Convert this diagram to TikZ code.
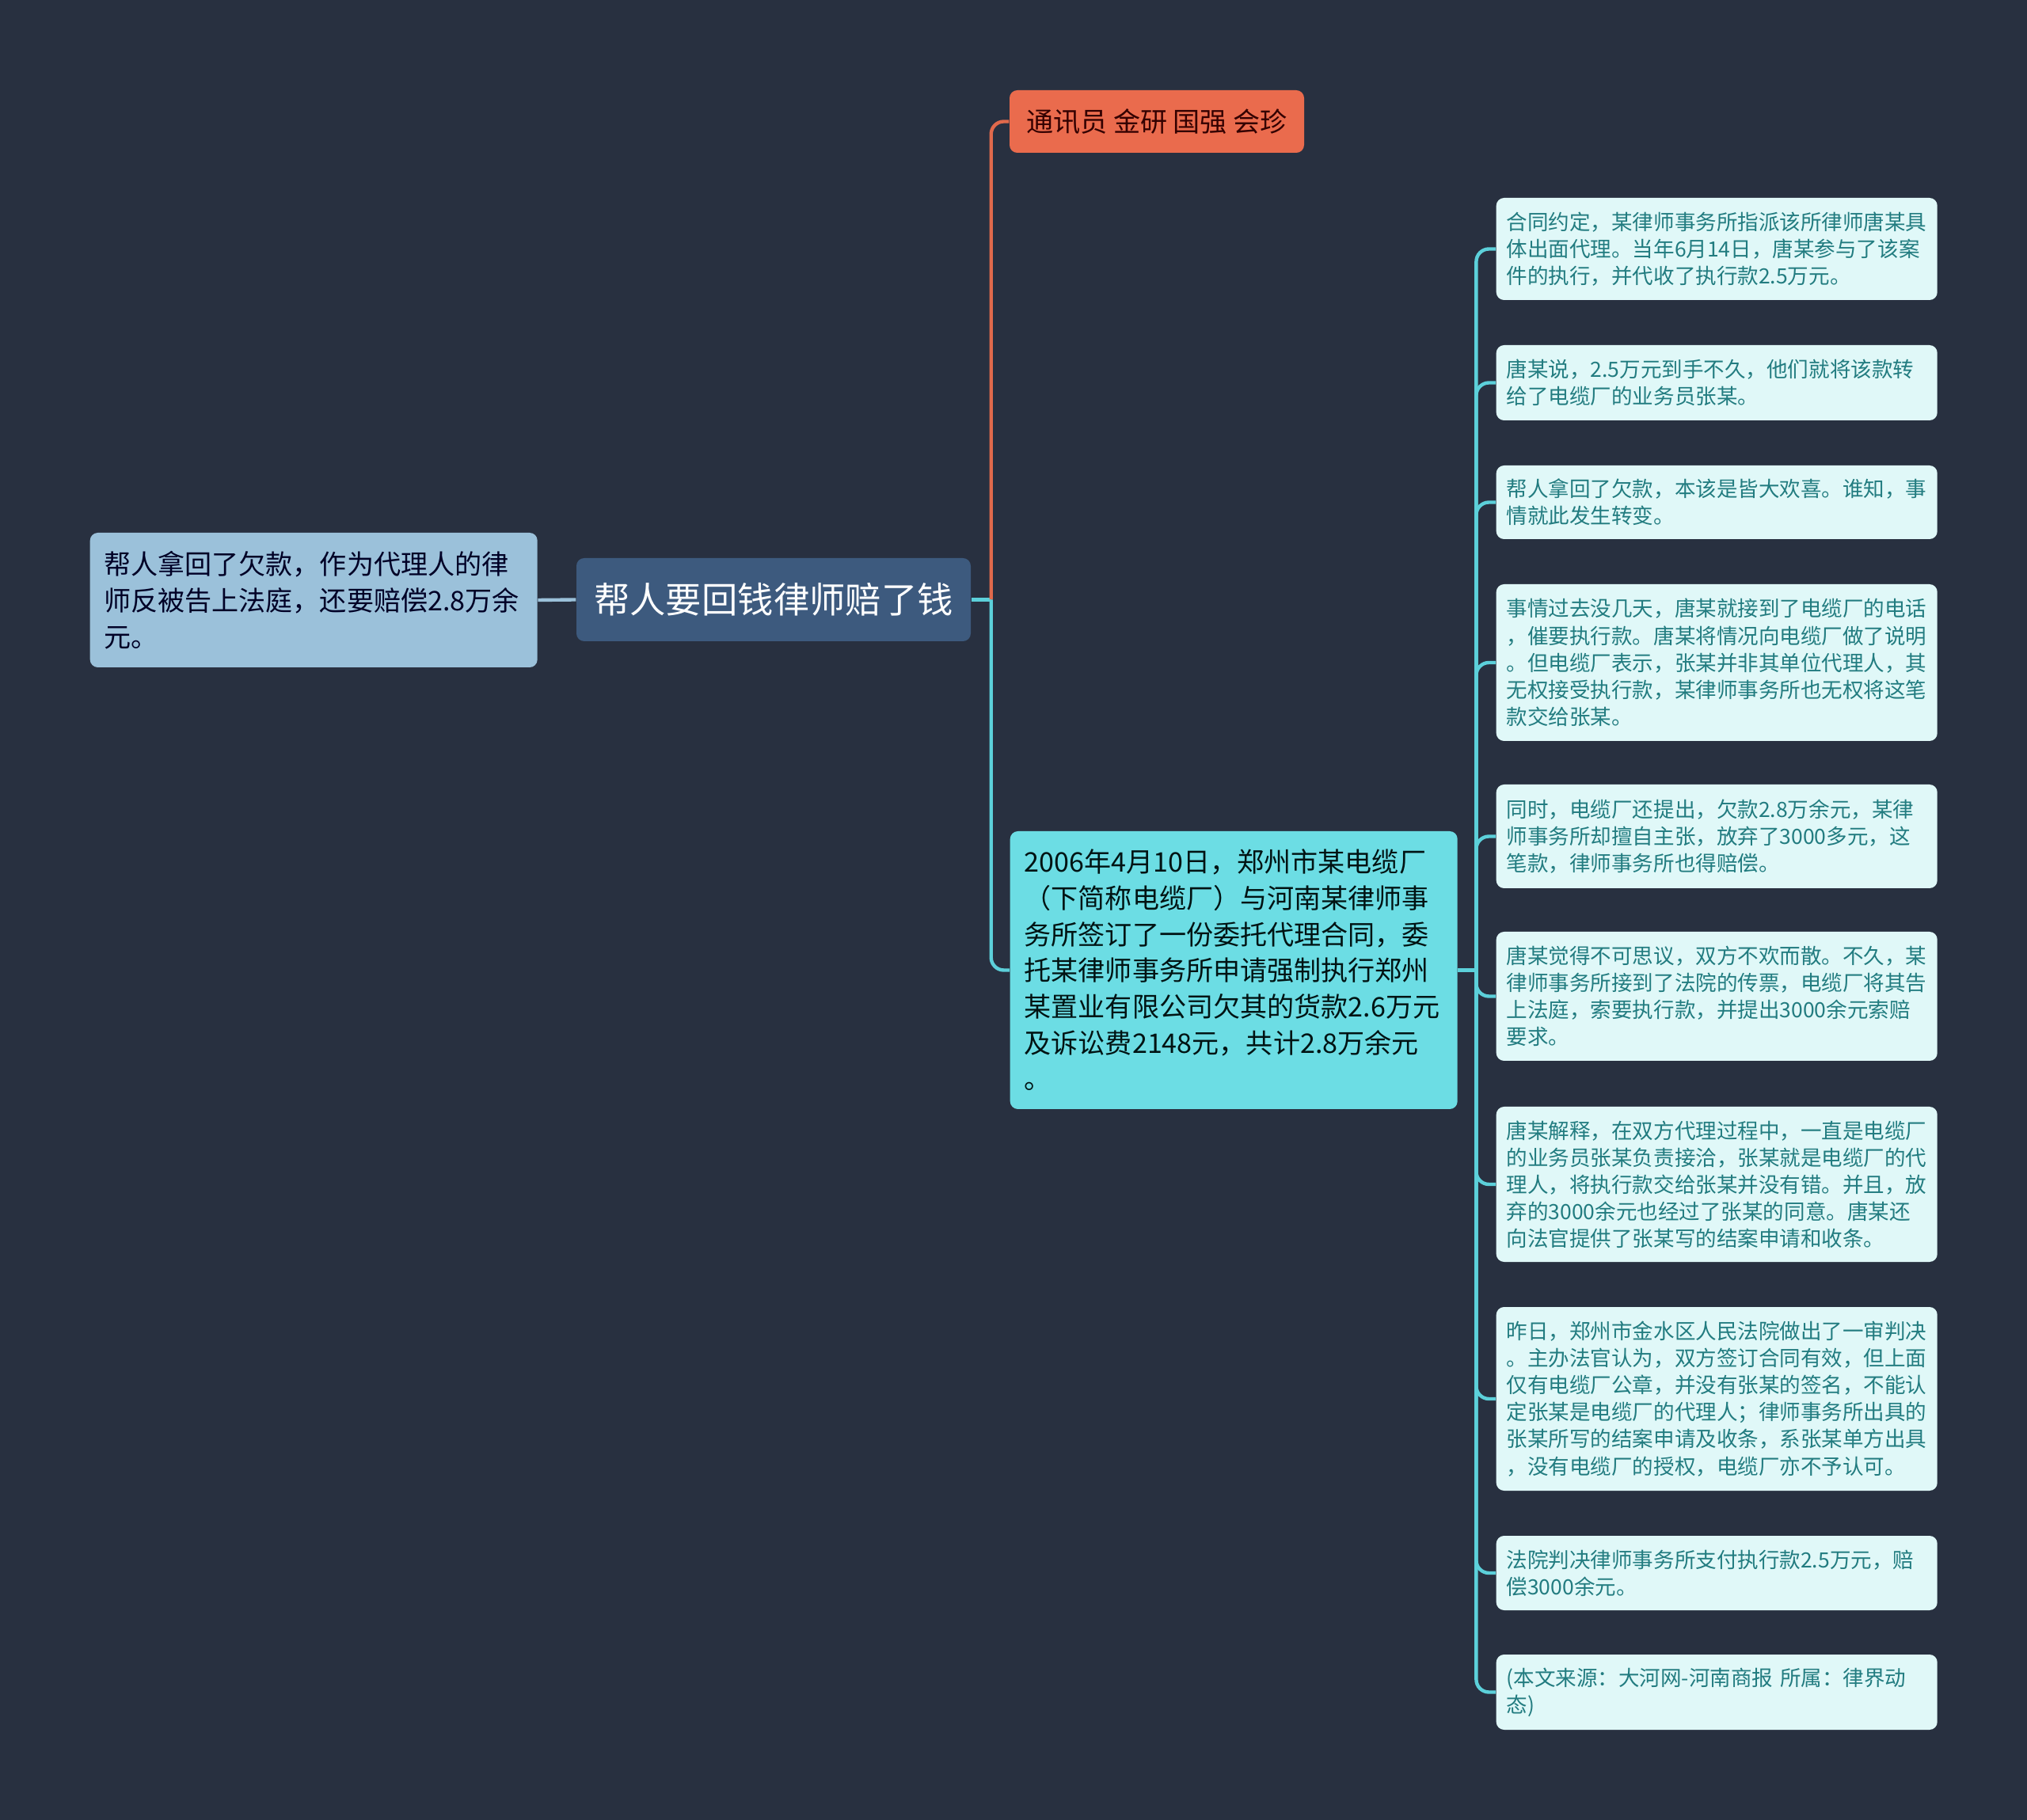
\documentclass[tikz,border=0pt]{standalone}
\usepackage{fontspec}
\setmainfont{Noto Sans CJK SC}
\usepackage{tikz}
\usetikzlibrary{positioning,calc}

\definecolor{bgc}{HTML}{283040}
\definecolor{rootc}{HTML}{3D5A7E}
\definecolor{sidec}{HTML}{9BC1DA}
\definecolor{tagc}{HTML}{EA6B4D}
\definecolor{mainc}{HTML}{6CDDE4}
\definecolor{leafc}{HTML}{E0F8F8}
\definecolor{leaftxt}{HTML}{227C80}
\definecolor{cyanln}{HTML}{5CD0DA}
\definecolor{orangeln}{HTML}{E0694C}

\begin{document}
\begin{tikzpicture}[
  base/.style={rounded corners=2.8pt, inner ysep=0pt, align=left},
  rootbox/.style={base, fill=rootc, text=white, align=center, minimum width=4.98cm,
                  minimum height=1.05cm, font=\fontsize{12.9}{16}\selectfont},
  sidebox/.style={base, fill=sidec, text=black!85!blue, text width=5.3cm, inner xsep=0.175cm,
                  font=\fontsize{9.7}{13}\selectfont},
  tagbox/.style={base, fill=tagc, text=black!80!red, align=center, minimum width=3.72cm,
                 minimum height=0.79cm, font=\fontsize{9.7}{13}\selectfont},
  mainbox/.style={base, fill=mainc, text=black!85!teal, text width=5.29cm, inner xsep=0.18cm,
                  font=\fontsize{9.7}{13}\selectfont},
  leafbox/.style={base, fill=leafc, text=leaftxt, text width=5.31cm, inner xsep=0.13cm,
                  font=\fontsize{7.55}{9.7}\selectfont},
  cln/.style={draw=cyanln, line width=1.25pt, rounded corners=0.16cm},
  oln/.style={draw=orangeln, line width=1.25pt, rounded corners=0.16cm},
  sln/.style={draw=sidec, line width=1.25pt}
]
  \fill[bgc] (0,0) rectangle (25.6,-22.99);
  \useasboundingbox (0,0) rectangle (25.6,-22.99);

  \node[rootbox] (root) at (9.77,-7.575) {帮人要回钱律师赔了钱};
  \node[sidebox, minimum height=1.70cm, anchor=west] (side) at (1.13,-7.58)
    {帮人拿回了欠款，作为代理人的律\\师反被告上法庭，还要赔偿2.8万余\\元。};
  \node[tagbox] (tag) at (14.61,-1.535) {通讯员 金研 国强 会珍};
  \node[mainbox, minimum height=3.51cm, anchor=west] (main) at (12.75,-12.255)
    {2006年4月10日，郑州市某电缆厂\\（下简称电缆厂）与河南某律师事\\务所签订了一份委托代理合同，委\\托某律师事务所申请强制执行郑州\\某置业有限公司欠其的货款2.6万元\\及诉讼费2148元，共计2.8万余元\\。};

  \node[leafbox, minimum height=1.29cm, anchor=west] (leaf1) at (18.89,-3.145)
    {合同约定，某律师事务所指派该所律师唐某具\\体出面代理。当年6月14日，唐某参与了该案\\件的执行，并代收了执行款2.5万元。};
  \node[leafbox, minimum height=0.95cm, anchor=west] (leaf2) at (18.89,-4.835)
    {唐某说，2.5万元到手不久，他们就将该款转\\给了电缆厂的业务员张某。};
  \node[leafbox, minimum height=0.93cm, anchor=west] (leaf3) at (18.89,-6.345)
    {帮人拿回了欠款，本该是皆大欢喜。谁知，事\\情就此发生转变。};
  \node[leafbox, minimum height=1.98cm, anchor=west] (leaf4) at (18.89,-8.37)
    {事情过去没几天，唐某就接到了电缆厂的电话\\，催要执行款。唐某将情况向电缆厂做了说明\\。但电缆厂表示，张某并非其单位代理人，其\\无权接受执行款，某律师事务所也无权将这笔\\款交给张某。};
  \node[leafbox, minimum height=1.31cm, anchor=west] (leaf5) at (18.89,-10.565)
    {同时，电缆厂还提出，欠款2.8万余元，某律\\师事务所却擅自主张，放弃了3000多元，这\\笔款，律师事务所也得赔偿。};
  \node[leafbox, minimum height=1.63cm, anchor=west] (leaf6) at (18.89,-12.585)
    {唐某觉得不可思议，双方不欢而散。不久，某\\律师事务所接到了法院的传票，电缆厂将其告\\上法庭，索要执行款，并提出3000余元索赔\\要求。};
  \node[leafbox, minimum height=1.96cm, anchor=west] (leaf7) at (18.89,-14.96)
    {唐某解释，在双方代理过程中，一直是电缆厂\\的业务员张某负责接洽，张某就是电缆厂的代\\理人，将执行款交给张某并没有错。并且，放\\弃的3000余元也经过了张某的同意。唐某还\\向法官提供了张某写的结案申请和收条。};
  \node[leafbox, minimum height=2.32cm, anchor=west] (leaf8) at (18.89,-17.67)
    {昨日，郑州市金水区人民法院做出了一审判决\\。主办法官认为，双方签订合同有效，但上面\\仅有电缆厂公章，并没有张某的签名，不能认\\定张某是电缆厂的代理人；律师事务所出具的\\张某所写的结案申请及收条，系张某单方出具\\，没有电缆厂的授权，电缆厂亦不予认可。};
  \node[leafbox, minimum height=0.94cm, anchor=west] (leaf9) at (18.89,-19.87)
    {法院判决律师事务所支付执行款2.5万元，赔\\偿3000余元。};
  \node[leafbox, minimum height=0.95cm, anchor=west] (leaf10) at (18.89,-21.375)
    {(本文来源：大河网-河南商报 所属：律界动\\态)};

  % links from the root
  \coordinate (rj) at ($(root.east)+(0.25,0)$);
  \draw[sln] (root.west) -- (side.east);
  \draw[cln] (root.east) -- (rj);
  \draw[oln] (rj) |- (tag.west);
  \draw[cln] (rj) |- (main.west);

  % links to the details
  \coordinate (mj) at ($(main.east)+(0.23,0)$);
  \draw[cln] (main.east) -- (mj);
  \foreach \i in {1,...,10}
    \draw[cln] (mj) |- (leaf\i.west);
\end{tikzpicture}
\end{document}
